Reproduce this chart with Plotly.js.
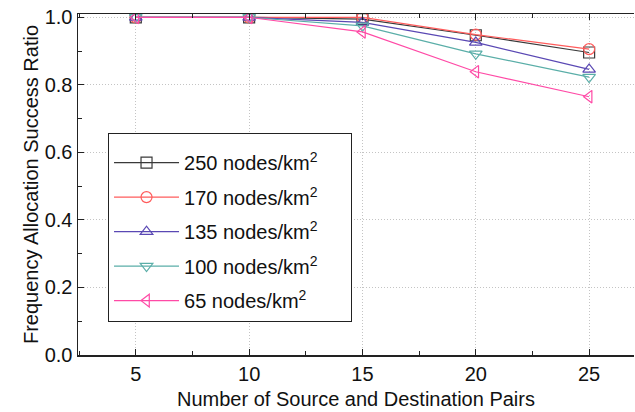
<!DOCTYPE html>
<html><head><meta charset="utf-8">
<script src="https://cdn.plot.ly/plotly-3.0.1.min.js"></script>
<style>html,body{margin:0;padding:0;background:#fff}#chart{width:635px;height:412px}</style>
</head><body><div id="chart"></div>
<script>
const pairs = [5, 10, 15, 20, 25];
const seriesNames = ['250 nodes/km<sup>2</sup>', '170 nodes/km<sup>2</sup>', '135 nodes/km<sup>2</sup>', '100 nodes/km<sup>2</sup>', '65 nodes/km<sup>2</sup>'];
const d250 = [1.0, 1.0, 0.995, 0.947, 0.896];
const d170 = [1.0, 1.0, 1.0, 0.949, 0.906];
const d135 = [1.0, 1.0, 0.985, 0.926, 0.846];
const d100 = [1.0, 1.0, 0.975, 0.892, 0.823];
const d65  = [1.0, 1.0, 0.957, 0.839, 0.765];
const yTicks = [0, 0.2, 0.4, 0.6, 0.8, 1.0];
const yTickLabels = ['0.0', '0.2', '0.4', '0.6', '0.8', '1.0'];
const xTicks = [5, 10, 15, 20, 25];

const colors = ['#3a3a3a', '#ff5c5c', '#5a48b4', '#5aaea8', '#ff4aa6'];
const symbols = ['square-open', 'circle-open', 'triangle-up-open', 'triangle-down-open', 'triangle-left-open'];
const data = [d250, d170, d135, d100, d65];

const traces = data.map((ys, i) => ({
  x: pairs, y: ys, name: seriesNames[i] + '&nbsp;&nbsp;&nbsp;&nbsp;&nbsp;', type: 'scatter', mode: 'lines+markers',
  legendgroup: 'g' + i,
  line: {color: colors[i], width: 1.2},
  marker: {symbol: symbols[i], size: 11, color: colors[i], line: {width: 1.2, color: colors[i]}}
}));

const layout = {
  width: 635, height: 412,
  margin: {l: 78, r: 1, t: 14, b: 57},
  paper_bgcolor: '#fff', plot_bgcolor: '#fff',
  font: {family: 'Liberation Sans, Arial, sans-serif', size: 20, color: '#111'},
  showlegend: true,
  legend: {
    x: 0.054, y: 0.651, xanchor: 'left', yanchor: 'top',
    bordercolor: '#222', borderwidth: 1, bgcolor: '#fff',
    font: {size: 20, color: '#111'},
    title: {text: '&nbsp;', font: {size: 7}},
    traceorder: 'grouped', tracegroupgap: 5.5, itemwidth: 65
  },
  xaxis: {
    range: [2.45, 26.98], tickvals: xTicks, ticks: 'inside', ticklen: 6, tickcolor: '#222',
    minor: {dtick: 2.5, ticks: 'inside', ticklen: 4, tickcolor: '#222', showgrid: false},
    showline: true, linecolor: '#222', linewidth: 1.5, mirror: 'ticks',
    showgrid: true, gridcolor: '#c4c4c4', griddash: '1px,2px', gridwidth: 1, zeroline: false,
    title: {text: 'Number of Source and Destination Pairs', font: {size: 20}, standoff: 8},
    tickfont: {size: 20}
  },
  yaxis: {
    range: [0, 1.01], tickvals: yTicks, ticktext: yTickLabels, ticks: 'inside', ticklen: 6, tickcolor: '#222',
    minor: {dtick: 0.1, ticks: 'inside', ticklen: 4, tickcolor: '#222', showgrid: false},
    showline: true, linecolor: '#222', linewidth: 1.5, mirror: false,
    showgrid: true, gridcolor: '#c4c4c4', griddash: '1px,2px', gridwidth: 1, zeroline: false,
    title: {text: 'Frequency Allocation Success Ratio', font: {size: 20}, standoff: 0},
    tickfont: {size: 20}
  }
};
Plotly.newPlot('chart', traces, layout, {displayModeBar: false, staticPlot: true});
</script></body></html>
